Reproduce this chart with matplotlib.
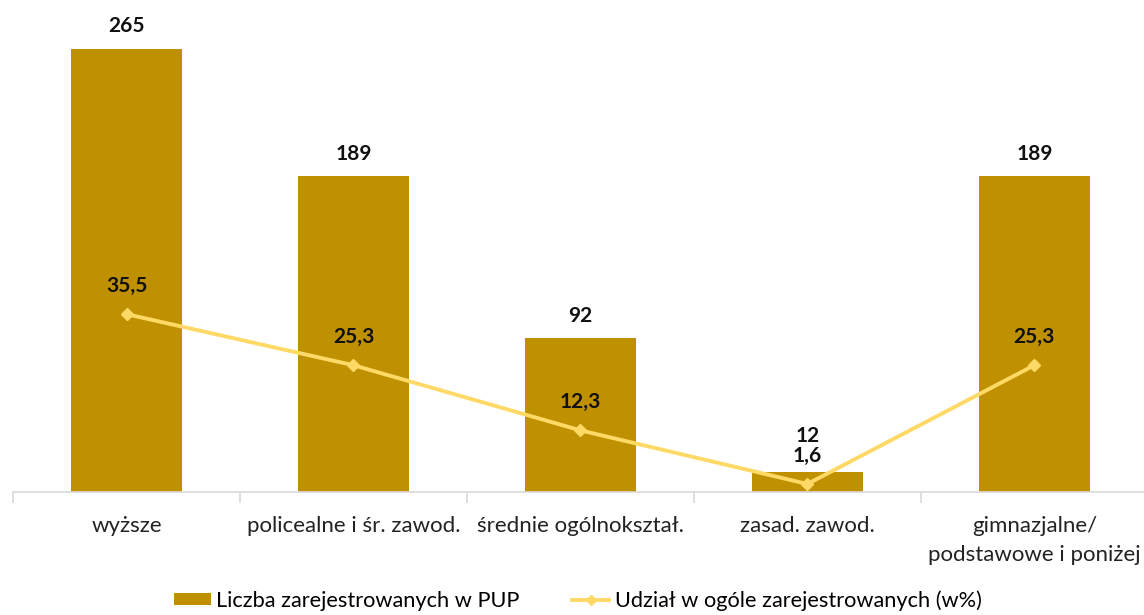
import matplotlib
matplotlib.use("Agg")
import matplotlib.pyplot as plt
from matplotlib.lines import Line2D
from matplotlib.patches import Patch
import numpy as np

categories = ["wyższe", "policealne i śr. zawod.", "średnie ogólnokształ.",
              "zasad. zawod.", "gimnazjalne/\npodstawowe i poniżej"]
registered = [265, 189, 92, 12, 189]
share_pct = [35.5, 25.3, 12.3, 1.6, 25.3]

BAR_COLOR = "#BF9000"
LINE_COLOR = "#FFD966"
plt.rcParams["font.family"] = ["Lato", "DejaVu Sans"]


def pl_num(v):
    return f"{v:g}".replace(".", ",")


fig = plt.figure(figsize=(11.44, 6.15), dpi=100)
ax = fig.add_axes([0.0114, 0.2, 0.992, 0.8])
ax2 = ax.twinx()

x = np.arange(len(categories))
ax.bar(x, registered, width=0.49, color=BAR_COLOR, zorder=2)
ax2.plot(x, share_pct, color=LINE_COLOR, lw=2.8, marker="D", ms=6.5,
         mec=LINE_COLOR, mfc=LINE_COLOR, zorder=3)

ax.set_xlim(-0.5, 4.5)
ax.set_ylim(0, 294.3)
ax2.set_ylim(0, 98.2)

for xi, v in zip(x, registered):
    # the short bar's label sits above the line label, as in the original
    dy = 19 if v < 30 else 9
    ax.annotate(str(v), (xi, v), xytext=(0, dy), textcoords="offset points",
                ha="center", va="bottom", fontsize=15, fontweight="bold", color="#111111")
for xi, v in zip(x, share_pct):
    ax2.annotate(pl_num(v), (xi, v), xytext=(0, 13), textcoords="offset points",
                 ha="center", va="bottom", fontsize=15, fontweight="bold", color="#111111")

for a in (ax, ax2):
    for s in ("top", "right", "left"):
        a.spines[s].set_visible(False)
    a.set_yticks([])
ax2.spines["bottom"].set_visible(False)
ax.spines["bottom"].set_color("#D9D9D9")
ax.spines["bottom"].set_linewidth(1.2)

ax.set_xticks(x)
ax.set_xticklabels(categories, fontsize=16, color="#222222", linespacing=1.6)
ax.tick_params(axis="x", which="major", length=0, pad=17)
ax.set_xticks(np.arange(-0.5, 5.0, 1.0), minor=True)
ax.tick_params(axis="x", which="minor", length=8, color="#D9D9D9", width=1.2)

handles = [Patch(facecolor=BAR_COLOR, label="Liczba zarejestrowanych w PUP"),
           Line2D([0], [0], color=LINE_COLOR, lw=2.8, marker="D", ms=5,
                  label="Udział w ogóle zarejestrowanych (w%)")]
fig.legend(handles=handles, loc="lower center", bbox_to_anchor=(0.505, -0.025), ncol=2,
           frameon=False, fontsize=15.7, handlelength=1.7, handleheight=0.5,
           columnspacing=2.4, handletextpad=0.25)

fig.savefig("out.png", dpi=100)
